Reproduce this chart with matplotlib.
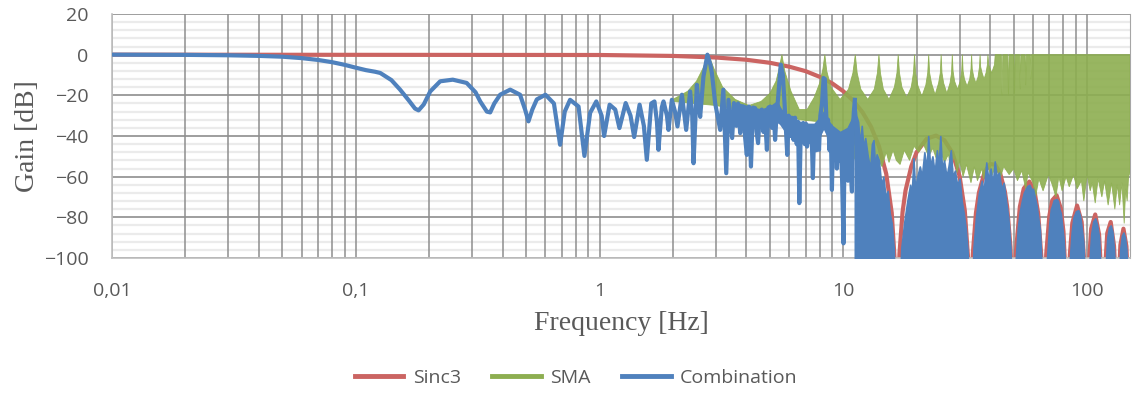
import numpy as np
import matplotlib
matplotlib.use('Agg')
import matplotlib.pyplot as plt
from matplotlib.lines import Line2D
from matplotlib.ticker import FixedLocator, LogLocator, NullFormatter, MultipleLocator

# Sinc3 (red)
sinc_f = [0.01, 1, 2, 3, 4, 5, 6, 7, 8, 9, 10, 11, 12, 13, 14, 15, 15.8, 16.3, 16.6,
          17, 17.5, 18, 19, 20, 22, 24, 26, 28, 30, 31.5, 32.5, 33.2,
          34, 35, 36, 38, 40, 42, 44, 46, 47, 48.5, 49.8,
          51, 53, 55, 58, 61, 63, 65, 66.4,
          68, 70, 72, 75, 78, 80, 82, 83,
          85, 87, 91, 95, 98, 99.6,
          101.5, 104, 108, 112, 114.5, 116.2,
          118, 121, 125, 129, 131, 132.8,
          134.5, 137, 141, 145, 148, 149.4, 150]
sinc_db = [0, -0.16, -0.62, -1.4, -2.5, -4.0, -5.9, -8.1, -10.9, -14.1, -18.0, -22.7, -28.4, -35.5, -45.0, -58.6, -77.8, -104, -130,
           -97.8, -77.4, -66.8, -55.0, -47.9, -41.3, -39.8, -42.1, -48.2, -59.8, -76.6, -100.2, -130,
           -97.8, -77.9, -67.9, -57.6, -53.8, -54.1, -58.3, -67.3, -74.7, -94.6, -130,
           -97.9, -74.8, -65.8, -62.4, -67.9, -78.0, -100.4, -130,
           -98.1, -79.4, -71.6, -69.2, -75.6, -86.9, -114.9, -130,
           -98.3, -82.8, -74.2, -82.3, -107.6, -130,
           -104.2, -85.5, -78.6, -88.4, -110, -130,
           -109.5, -87.8, -82.3, -94.1, -112.2, -130,
           -114.3, -93.6, -85.6, -94.2, -121.8, -130, -130]

# SMA (green) - upper edge of the band
sma_top_f = [2.0, 2.3, 2.5, 2.65, 2.8, 2.95, 3.2, 3.6, 4.1, 4.6, 5.0, 5.3, 5.45, 5.6, 5.75, 6.1, 6.6, 7.1, 7.6,
             8.0, 8.25, 8.4, 8.55, 8.9, 9.7, 10.5, 10.95, 11.2, 11.4, 11.8, 12.6, 13.4, 13.8, 14.0, 14.2,
             14.6, 15.4, 16.2, 16.6, 16.8, 17.0, 17.4, 18.2, 19.0, 19.4, 19.6, 19.8, 20.2, 21.0, 21.8,
             22.2, 22.4, 22.6, 23.0, 23.8, 24.6, 25.0, 25.2, 25.4, 25.8, 26.6, 27.4, 27.8, 28.0, 28.2,
             28.6, 29.4, 30.2, 30.6, 30.8, 31.0, 31.4, 32.2, 33.0, 33.4, 33.6, 33.8, 34.3, 35.0, 35.7,
             36.2, 36.4, 36.6, 37.1, 37.8, 38.5, 39.0, 39.2, 39.5, 40.6, 41.7, 42.0,
             44.5, 44.8, 45.1, 47.3, 47.6, 47.9, 50.1, 50.4, 50.7, 52.9, 53.2, 53.5, 55.7, 56.0, 56.3,
             58.5, 58.8, 59.1, 150]
sma_top_db = [-22, -18, -13, -7, 0, -7, -16, -22, -25, -23, -19, -13, -7, 0, -8, -18, -27, -27, -21,
              -14, -7, 0, -8, -16, -22, -17, -9, 0, -9, -17, -22, -17, -9, 0, -9,
              -17, -22, -16, -9, 0, -9, -16, -21, -16, -9, 0, -9, -15, -20.5, -15,
              -9, 0, -9, -14, -19.7, -14, -9, 0, -9, -14, -19, -14, -9, 0, -8,
              -13, -17, -13, -8, 0, -8, -12, -15.5, -12, -7, 0, -7, -11, -14, -11,
              -6, 0, -6, -9, -12, -9, -5, 0, -5, -9, -5, 0,
              0, -20, 0, 0, -20, 0, 0, -19, 0, 0, -17, 0, 0, -15, 0,
              0, -12, 0, 0]

# SMA (green) - lower edge of the band
sma_bot_f = [2.0, 3.0, 4.1, 5.0, 6.6, 8.0, 9.0, 10.0, 11.0, 11.6, 12.3, 13.0, 13.7, 14.4, 15.0, 15.4, 16.0,
             16.5, 17.1, 17.8, 18.7, 19.5, 20.4, 21.3, 22.4, 23.3, 24.2, 25.0, 26.0, 27.0, 27.5, 28.5,
             29.3, 30.0, 31.0, 32.0, 33.4, 34.5, 35.5, 37.0, 37.6, 39.0, 40.5, 42.2, 44.0, 45.5, 47.9,
             50.0, 51.8, 54.0, 56.0, 57.3, 60.0, 61.5, 63.4, 66.0, 69.4, 72.0, 74.5, 76.6, 79.0, 82.0,
             84.5, 88.0, 91.0, 94.8, 97.0, 100, 103, 105, 108, 111, 115, 118, 122, 126, 130, 133, 136,
             139, 142, 144, 146, 148, 150]
sma_bot_db = [-23, -25, -28, -26, -32, -33, -38, -44, -50, -55, -48, -56, -50, -55, -48, -53, -47,
              -52, -54, -47, -52, -45, -48, -44, -50, -46, -52, -47, -53, -49, -55, -50,
              -58, -52, -60, -54, -63, -55, -62, -56, -61, -54, -60, -55, -61, -55, -59,
              -56, -62, -57, -66, -58, -63, -70, -61, -67, -59, -64, -70, -60, -67, -60,
              -65, -59, -66, -62, -72, -59, -67, -63, -73, -61, -70, -62, -74, -63, -76, -64, -74,
              -63, -83, -66, -72, -60, -58]

# Combination (blue) - line part
comb_f = [0.01, 0.02, 0.03, 0.04, 0.05, 0.06, 0.07, 0.08, 0.09, 0.1, 0.11, 0.12, 0.126, 0.14, 0.152,
          0.165, 0.175, 0.181, 0.19, 0.202, 0.222, 0.25, 0.285, 0.31, 0.324, 0.345, 0.356, 0.37,
          0.391, 0.43, 0.472, 0.495, 0.511, 0.53, 0.553, 0.6, 0.65, 0.689, 0.72, 0.757, 0.82, 0.867,
          0.915, 0.97, 1.02, 1.044, 1.10, 1.16, 1.207, 1.28, 1.34, 1.387, 1.46, 1.52, 1.563, 1.63,
          1.68, 1.72, 1.745, 1.8, 1.83, 1.89, 1.918, 1.98, 2.04, 2.088, 2.177, 2.22, 2.267, 2.353,
          2.40, 2.43, 2.507, 2.55, 2.587, 2.669, 2.77, 2.85, 2.89, 2.98, 3.126, 3.22, 3.31, 3.38,
          3.5, 3.56, 3.64, 3.7, 3.776, 3.84, 3.89, 3.95, 4.02, 4.1, 4.18, 4.26, 4.35, 4.41, 4.47,
          4.55, 4.63, 4.7, 4.77, 4.86, 4.93, 5.02, 5.1, 5.18, 5.25, 5.32, 5.38, 5.54, 5.65, 5.75,
          5.82, 5.89, 5.97, 6.07, 6.15, 6.25, 6.34, 6.44, 6.52, 6.6, 6.7, 6.78, 6.85, 6.95, 7.03,
          7.1, 7.2, 7.31, 7.4, 7.5, 7.6, 7.74, 7.84, 7.95, 8.05, 8.18, 8.3, 8.4, 8.5, 8.56, 8.66,
          8.78, 8.88, 8.98, 9.08, 9.2, 9.3, 9.41, 9.52, 9.63, 9.75, 9.88, 10.02, 10.12, 10.22,
          10.33, 10.45, 10.56, 10.7, 10.85, 10.95, 11.05, 11.15]
comb_db = [0, -0.1, -0.3, -0.6, -1.0, -1.7, -2.6, -3.7, -5.0, -6.4, -7.6, -8.4, -9.0, -12.5, -17.2,
           -22.5, -26.5, -27.4, -24.5, -18.1, -13.1, -12.3, -13.9, -18.5, -23, -28, -28.4, -24,
           -19.7, -17.2, -19.7, -27, -32.8, -27, -22, -19.7, -24, -44.3, -28, -22.2, -25.5, -49.8,
           -28.6, -23, -30, -40, -24.6, -27, -36.1, -23.8, -30, -40.5, -24.6, -35, -51.7, -24,
           -23, -33, -46.8, -26, -23, -30, -37, -22.2, -28, -35.3, -19.7, -28, -37, -18.1,
           -30, -53.4, -14.8, -24, -30.6, -10.7, 0, -5, -9, -23.8, -37, -17.2, -58.3, -22.2,
           -41, -23.8, -35, -24, -38.6, -26, -25.5, -40, -49.3, -25.5, -55, -26, -26.3, -38, -43.5,
           -28, -27, -38, -30, -46.8, -26, -25.5, -36, -28, -41.9, -30, -23.8, -4.9, -10, -25.5,
           -38, -49.3, -30, -40, -31, -41.9, -31, -44, -33, -73, -34, -42, -33.6, -44, -34,
           -45.2, -35, -43, -35.3, -60.7, -36, -47, -34, -46.8, -30, -24, -11.5, -12, -28, -37, -32,
           -47, -35, -66.5, -37, -50, -38, -56, -40, -52, -42, -60, -92.8, -45, -58,
           -42, -62, -40, -55, -67.3, -36, -28, -22.2]

# Combination (blue) - solid core between 3.5 and 11 Hz
core_f = [3.5, 3.7, 4.1, 4.6, 5.0, 5.35, 5.5, 5.8, 6.1, 6.6, 7.1, 7.6, 8.0, 8.3, 8.6, 9.0, 9.7, 10.4, 11.0]
core_top = [-25, -24, -25.5, -27, -25.5, -23, -26, -30, -31, -33, -34, -34, -31, -28, -32, -35, -38, -36, -30]
core_bot = [-32, -34, -35, -36, -35, -33, -34, -38, -40, -41, -42, -42, -40, -36, -40, -44, -46, -47, -44]

# Combination (blue) - dense part, upper edge (filled down to the bottom)
band_f = [11.15, 11.3, 11.5, 11.7, 11.9, 12.1, 12.3, 12.6, 12.9, 13.1, 13.3, 13.5, 13.7, 14.0, 14.3,
          14.6, 14.9, 15.2, 15.5, 15.8, 16.1, 16.4, 16.8,
          17.3, 17.8, 18.3, 18.8, 19.1, 19.4, 19.7, 20.1, 20.6, 21.0, 21.5, 22.0, 22.3, 22.7, 23.2,
          23.7, 24.2, 24.6, 25.0, 25.4, 25.9, 26.5, 27.0, 27.6, 28.1, 28.7, 29.3, 30.0, 30.6, 31.2,
          31.8, 32.4, 32.9, 33.5,
          34.2, 35.0, 36.0, 37.0, 37.6, 38.6, 39.4, 40.2, 41.0, 41.8, 42.6, 43.5, 44.5, 45.5, 46.5,
          47.5, 48.5, 49.4, 50.2,
          51.0, 52.0, 53.0, 54.0, 55.0, 56.0, 57.0, 58.0, 59.0, 60.0, 61.0, 62.0, 63.0, 64.0, 65.0,
          65.8, 67.0,
          68.5, 70.0, 71.0, 72.0, 73.0, 75.0, 76.0, 77.0, 78.0, 79.0, 80.0, 81.5, 82.5, 83.6,
          85.0, 86.5, 88.0, 90.0, 92.0, 93.5, 95.0, 96.5, 98.0, 99.0, 100.3,
          102.0, 104.0, 106.0, 108.0, 110.0, 112.0, 114.0, 115.5, 117.0,
          119.0, 121.0, 123.0, 125.0, 127.0, 129.0, 131.0, 132.2, 133.5,
          135.5, 137.0, 139.0, 141.0, 143.0, 145.0, 147.0, 148.8, 150]
band_db = [-22.2, -30, -33, -44, -35, -46, -41, -50, -56, -44, -42, -55, -49, -52, -64,
           -60, -70, -67, -78, -83, -95, -130, -130,
           -95, -82, -72, -64, -68, -51, -66, -60, -55, -60, -48, -56, -40, -55, -50,
           -58, -47, -55, -40, -56, -52, -60, -55, -47, -60, -57, -64, -61, -72, -78,
           -86, -98, -130, -130,
           -95, -80, -68, -62, -68, -53, -62, -56, -64, -52.5, -60, -58, -66, -63, -72,
           -80, -95, -130, -130,
           -100, -85, -77, -72, -68, -66, -64.5, -64, -66, -66, -70, -74, -80, -86, -102,
           -130, -130,
           -100, -83, -76, -74, -71.5, -71, -72, -76, -78, -84, -90, -105, -130, -130,
           -100, -87, -80, -77, -76.5, -79, -85, -92, -110, -130, -130,
           -104, -88, -82, -80.5, -84, -90, -110, -130, -130,
           -105, -90, -85, -84, -87, -96, -113, -130, -130,
           -105, -95, -89, -87.5, -90, -96, -110, -130, -130]

x_ticks = [0.01, 0.1, 1, 10, 100]
x_labels = ['0,01', '0,1', '1', '10', '100']
y_ticks = [-100, -80, -60, -40, -20, 0, 20]
series_names = ['Sinc3', 'SMA', 'Combination']
series_colors = ['#CB6462', '#8DAE50', '#4F81BD']

gray = '#595959'
plt.rcParams['font.family'] = ['Open Sans', 'DejaVu Sans']

fig = plt.figure(figsize=(11.32, 3.94), dpi=100)
ax = fig.add_axes([112/1132, 136/394, 1018/1132, 244/394])
ax.set_xscale('log')

ax.plot(sinc_f, sinc_db, color=series_colors[0], lw=3.0, zorder=2, solid_joinstyle='round')
ax.fill(np.concatenate([sma_top_f, sma_bot_f[::-1]]), np.concatenate([sma_top_db, sma_bot_db[::-1]]),
        color=series_colors[1], alpha=0.9, lw=0.6, zorder=3)
ax.plot(comb_f, comb_db, color=series_colors[2], lw=3.0, zorder=4, solid_joinstyle='round')
ax.fill_between(core_f, core_top, core_bot, color=series_colors[2], lw=1.0, zorder=4)
ax.fill_between(band_f, band_db, -130, color=series_colors[2], lw=1.2, zorder=4)

ax.set_xlim(0.01, 150)
ax.set_ylim(-100, 20)
ax.xaxis.set_major_locator(FixedLocator(x_ticks))
ax.set_xticklabels(x_labels)
ax.xaxis.set_minor_locator(LogLocator(base=10, subs=range(2, 10), numticks=20))
ax.xaxis.set_minor_formatter(NullFormatter())
ax.yaxis.set_major_locator(FixedLocator(y_ticks))
ax.yaxis.set_minor_locator(MultipleLocator(4))
ax.tick_params(which='both', length=0)
ax.tick_params(axis='x', pad=17, labelsize=14, labelcolor=gray)
ax.tick_params(axis='y', pad=17, labelsize=14, labelcolor=gray)

ax.set_axisbelow(True)
# vertical grid drawn over the light horizontal minor lines
ax.yaxis.set_zorder(0.4)
ax.xaxis.set_zorder(0.5)
ax.grid(which='minor', axis='y', color='#EBEBEB', lw=1.6)
ax.grid(which='major', axis='y', color='#8E8E8E', lw=1.2)
ax.grid(which='both', axis='x', color='#8E8E8E', lw=1.1)
ax.spines['top'].set_visible(False)
ax.spines['left'].set_color('#BFBFBF')
ax.spines['bottom'].set_color('#BFBFBF')
ax.spines['right'].set_color('#A6A6A6')
ax.spines['left'].set_linewidth(1.2)
ax.spines['bottom'].set_linewidth(1.2)

fig.text(621/1132, 1-323/394, 'Frequency [Hz]', ha='center', va='center', fontsize=20,
         family='Liberation Serif', color=gray)
fig.text(27/1132, 1-136/394, 'Gain [dB]', ha='center', va='center', rotation=90, fontsize=20,
         family='Liberation Serif', color=gray)

handles = [Line2D([], [], color=c, lw=3.5) for c in series_colors]
leg = fig.legend(handles, series_names, loc='center', bbox_to_anchor=(0.509, 1-378/394), ncol=3,
                 frameon=False, fontsize=14, handlelength=2.5, handletextpad=0.5, columnspacing=1.6)
for t in leg.get_texts():
    t.set_color(gray)

fig.savefig('out.png', dpi=100)
